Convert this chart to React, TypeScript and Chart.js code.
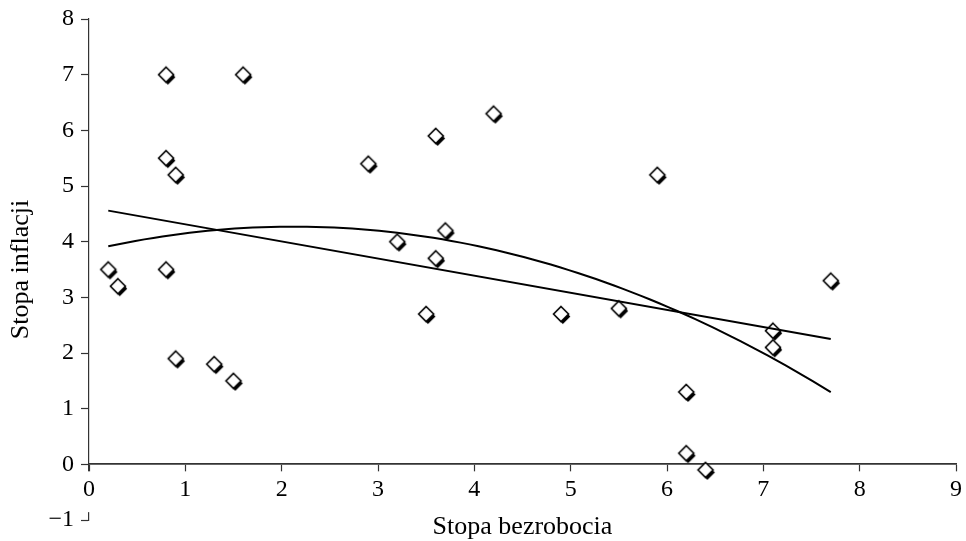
import React, { useEffect, useRef } from 'react';
import { Chart, registerables } from 'chart.js';

Chart.register(...registerables);

// Stopa bezrobocia (x) and Stopa inflacji (y)
const unemployment = [0.2, 0.3, 0.8, 0.8, 0.9, 0.8, 0.9, 1.6, 1.3, 1.5, 2.9, 3.2, 3.6, 3.6, 3.7, 3.5, 4.2, 4.9, 5.5, 5.9, 6.2, 6.2, 6.4, 7.1, 7.1, 7.7];
const inflation = [3.5, 3.2, 7.0, 5.5, 5.2, 3.5, 1.9, 7.0, 1.8, 1.5, 5.4, 4.0, 5.9, 3.7, 4.2, 2.7, 6.3, 2.7, 2.8, 5.2, 1.3, 0.2, -0.1, 2.4, 2.1, 3.3];

const xTitle = 'Stopa bezrobocia';
const yTitle = 'Stopa inflacji';
const xRange = [0, 9];
const yRange = [-1, 8];

// least-squares polynomial fit (degree 1 or 2), like a spreadsheet trendline
function polyFit(xs: number[], ys: number[], deg: number): number[] {
  const n = deg + 1;
  const A: number[][] = Array.from({ length: n }, () => new Array(n + 1).fill(0));
  for (let i = 0; i < xs.length; i++) {
    for (let r = 0; r < n; r++) {
      for (let c = 0; c < n; c++) A[r][c] += Math.pow(xs[i], r + c);
      A[r][n] += ys[i] * Math.pow(xs[i], r);
    }
  }
  for (let p = 0; p < n; p++) {
    let best = p;
    for (let r = p + 1; r < n; r++) if (Math.abs(A[r][p]) > Math.abs(A[best][p])) best = r;
    [A[p], A[best]] = [A[best], A[p]];
    for (let r = 0; r < n; r++) {
      if (r === p) continue;
      const f = A[r][p] / A[p][p];
      for (let c = p; c <= n; c++) A[r][c] -= f * A[p][c];
    }
  }
  return A.map((row, i) => row[n] / A[i][i]);
}

function trendPoints(coef: number[], steps: number) {
  const lo = Math.min(...unemployment);
  const hi = Math.max(...unemployment);
  const pts: { x: number; y: number }[] = [];
  for (let i = 0; i <= steps; i++) {
    const x = lo + ((hi - lo) * i) / steps;
    const y = coef.reduce((s, c, k) => s + c * Math.pow(x, k), 0);
    pts.push({ x, y });
  }
  return pts;
}

function makeMarker(): HTMLCanvasElement {
  const c = document.createElement('canvas');
  c.width = 26;
  c.height = 26;
  const ctx = c.getContext('2d')!;
  const r = 7.5;
  const diamond = (x: number, y: number) => {
    ctx.beginPath();
    ctx.moveTo(x, y - r);
    ctx.lineTo(x + r, y);
    ctx.lineTo(x, y + r);
    ctx.lineTo(x - r, y);
    ctx.closePath();
  };
  ctx.fillStyle = '#000';
  diamond(14.8, 15.5);
  ctx.fill();
  diamond(13, 13);
  ctx.fillStyle = '#fff';
  ctx.fill();
  ctx.lineWidth = 1.6;
  ctx.strokeStyle = '#000';
  ctx.stroke();
  return c;
}

export default function App() {
  const ref = useRef<HTMLCanvasElement>(null);

  useEffect(() => {
    if (!ref.current) return;
    const tickFont = { family: '"Liberation Serif", "Times New Roman", serif', size: 24 };
    const titleFont = { family: '"Liberation Serif", "Times New Roman", serif', size: 26 };
    const points = unemployment.map((x, i) => ({ x, y: inflation[i] }));
    const lin = polyFit(unemployment, inflation, 1);
    const quad = polyFit(unemployment, inflation, 2);
    const marker = makeMarker();

    const chart = new Chart(ref.current, {
      type: 'scatter',
      data: {
        datasets: [
          {
            label: 'linear',
            data: trendPoints(lin, 1),
            showLine: true,
            borderColor: '#000',
            borderWidth: 2,
            pointRadius: 0,
            fill: false,
          },
          {
            label: 'quadratic',
            data: trendPoints(quad, 80),
            showLine: true,
            borderColor: '#000',
            borderWidth: 2,
            pointRadius: 0,
            fill: false,
            tension: 0,
          },
          {
            label: 'data',
            data: points,
            pointStyle: marker as any,
            pointRadius: 9,
            showLine: false,
          },
        ],
      },
      options: {
        animation: false,
        responsive: true,
        maintainAspectRatio: false,
        layout: { padding: { top: 19, right: 8, bottom: 21, left: 0 } },
        plugins: { legend: { display: false }, tooltip: { enabled: false } },
        scales: {
          x: {
            type: 'linear',
            position: { y: 0 } as any,
            min: xRange[0],
            max: xRange[1],
            ticks: {
              stepSize: 1,
              padding: 3,
              color: '#000',
              font: tickFont,
              showLabelBackdrop: true,
              backdropColor: '#fff',
              backdropPadding: { top: 4, bottom: 8, left: 0, right: 0 },
              z: 1,
            } as any,
            grid: { drawOnChartArea: false, drawTicks: true, tickLength: 8, color: '#333', tickWidth: 1.2 },
            border: { color: '#333', width: 1.8 },
            title: {
              display: true,
              text: xTitle,
              color: '#000',
              font: titleFont,
              padding: { top: 0, bottom: -57 },
            },
            afterFit: (s: any) => {
              s.height = 21;
              s.paddingLeft = 0;
              s.paddingRight = 0;
              s.paddingTop = 0;
              s.paddingBottom = 0;
            },
          },
          y: {
            type: 'linear',
            position: 'left',
            min: yRange[0],
            max: yRange[1],
            ticks: {
              stepSize: 1,
              padding: 7,
              color: '#000',
              font: tickFont,
              callback: (v: any) => (Number(v) < 0 ? '\u2212' + Math.abs(Number(v)) : String(v)),
            },
            grid: { drawOnChartArea: false, drawTicks: true, tickLength: 8, color: '#333', tickWidth: 1.2 },
            border: { color: '#333', width: 1.2 },
            title: {
              display: true,
              text: yTitle,
              color: '#000',
              font: titleFont,
              padding: { top: 6, bottom: 0 },
            },
            afterFit: (s: any) => {
              s.width = 89;
              s.paddingTop = 0;
              s.paddingBottom = 0;
            },
          },
        },
      },
    });
    return () => chart.destroy();
  }, []);

  return (
    <div style={{ position: 'fixed', left: 0, top: 0, width: 966, height: 541, background: '#fff' }}>
      <canvas ref={ref} />
    </div>
  );
}
